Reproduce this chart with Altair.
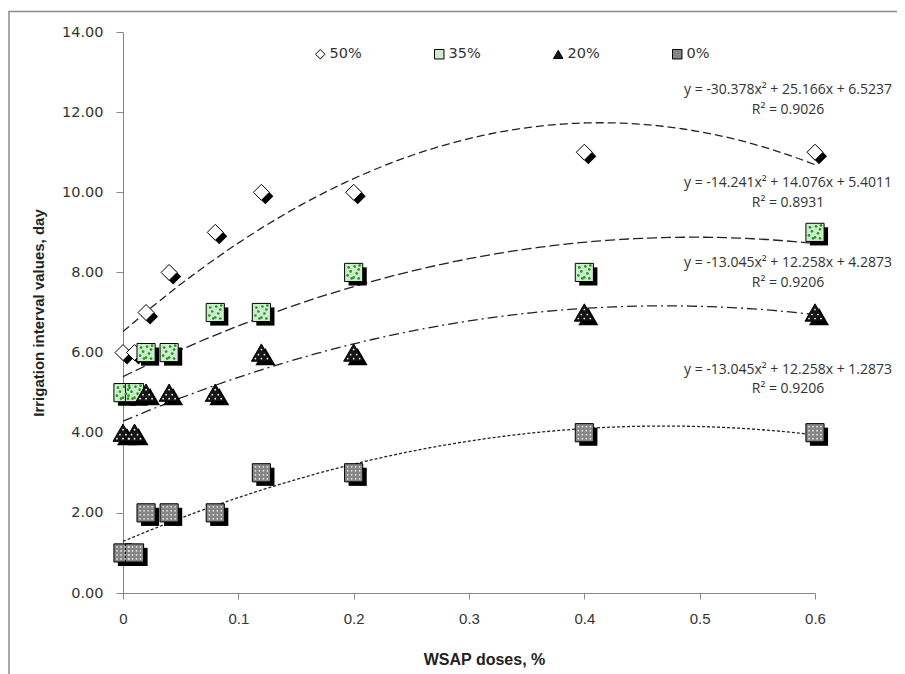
import altair as alt
import pandas as pd

# ---------------- data ----------------
series_names = ["50%", "35%", "20%", "0%"]
doses = [0, 0.01, 0.02, 0.04, 0.08, 0.12, 0.2, 0.4, 0.6]
vals_50 = [6, 6, 7, 8, 9, 10, 10, 11, 11]
vals_35 = [5, 5, 6, 6, 7, 7, 8, 8, 9]
vals_20 = [4, 4, 5, 5, 5, 6, 6, 7, 7]
vals_0 = [1, 1, 2, 2, 2, 3, 3, 4, 4]

eq_texts = [
    "y = -30.378x² + 25.166x + 6.5237",
    "y = -14.241x² + 14.076x + 5.4011",
    "y = -13.045x² + 12.258x + 4.2873",
    "y = -13.045x² + 12.258x + 1.2873",
]
r2_texts = ["R² = 0.9026", "R² = 0.8931", "R² = 0.9206", "R² = 0.9206"]

x_ticks = [0, 0.1, 0.2, 0.3, 0.4, 0.5, 0.6]
y_ticks = [0, 2, 4, 6, 8, 10, 12, 14]

# annotation placement (data units)
eq_x = 0.5766
eq_y = [12.55, 10.23, 8.24, 5.57]
r2_y = [12.05, 9.73, 7.74, 5.09]

# ---------------- tables ----------------
rows = []
for name, vals in [("50%", vals_50), ("35%", vals_35), ("20%", vals_20), ("0%", vals_0)]:
    for d, v in zip(doses, vals):
        rows.append({"dose": d, "value": v, "series": name})
pts = pd.DataFrame(rows)

ann = pd.DataFrame(
    [{"dose": eq_x, "value": y, "t": t} for y, t in zip(eq_y, eq_texts)]
    + [{"dose": eq_x, "value": y, "t": t} for y, t in zip(r2_y, r2_texts)]
)

# ---------------- scales / styles ----------------
xscale = alt.Scale(domain=[0, 0.6], nice=False, zero=False)
yscale = alt.Scale(domain=[0, 14], nice=False)

shapes = ["diamond", "square", "triangle-up", "square"]
fills = ["#ffffff", "#cdebcd", "#161616", "#858585"]
sizes = [256, 330, 400, 330]
dashes = [[8, 4], [10, 4], [10, 4, 2, 4], [3, 2]]
shape_scale = alt.Scale(domain=series_names, range=shapes)
fill_scale = alt.Scale(domain=series_names, range=fills)
stroke_scale = alt.Scale(domain=series_names, range=["#000000"] * 4)

# texture dots (pixel offsets inside each marker)
tex = {
    "35%": ([(-5, -5), (1, -6), (5, -3), (-3, -1), (3, 1), (-6, 3), (0, 5), (5, 6), (-2, 6), (6, -7)], "#1f9a1f", 7),
    "20%": ([(0, -3), (-3, 2), (3, 2), (-6, 6), (0, 6), (6, 6)], "#ffffff", 3),
    "0%": ([(dx, dy) for dx in (-6, -2, 2, 6) for dy in (-6, -2, 2, 6)], "#e8e8e8", 3),
}

axis_gray = "#868686"
label_col = "#333333"

xaxis = alt.Axis(
    values=x_ticks, format=".1~f", grid=False,
    domainColor=axis_gray, tickColor=axis_gray, tickSize=6,
    labelFont="Liberation Sans Narrow, Liberation Sans", labelFontSize=15, labelColor=label_col,
    labelPadding=12, labelFlush=False,
    titleFont="Liberation Sans Narrow, Liberation Sans", titleFontSize=16,
    titleFontWeight="bold", titleColor="#222222", titlePadding=25, titleX=361, titleAlign="center",
)
yaxis = alt.Axis(
    values=y_ticks, format=".2f", grid=False,
    domainColor=axis_gray, tickColor=axis_gray, tickSize=7,
    labelFont="DejaVu Sans", labelFontSize=14.5, labelColor=label_col, labelPadding=13,
    titleFont="Liberation Sans Narrow, Liberation Sans",
    titleFontSize=15, titleFontWeight="bold", titleColor="#222222", titlePadding=15,
)

X = alt.X("dose:Q", scale=xscale, axis=xaxis, title="WSAP doses, %")
Y = alt.Y("value:Q", scale=yscale, axis=yaxis, title="Irrigation interval values, day")

legend = alt.Legend(
    title=None, orient="none", legendX=190, legendY=15, direction="horizontal",
    columnPadding=70, symbolSize=90, symbolStrokeColor="black", symbolStrokeWidth=1,
    labelFont="DejaVu Sans", labelFontSize=14.5, labelColor=label_col, labelOffset=2,
)

layers = []

frame = alt.Chart(pd.DataFrame({"k": [0]})).mark_rect(
    fill="transparent", stroke="#8a8a8a", strokeWidth=1.5
).encode(x=alt.value(-114), x2=alt.value(1000), y=alt.value(-20.5), y2=alt.value(1000))
layers.append(frame)

# trend lines (2nd-order polynomial fits computed by Vega)
for i, s in enumerate(series_names):
    layers.append(
        alt.Chart(pts).transform_filter(alt.datum.series == s)
        .transform_regression("dose", "value", method="poly", order=2, extent=[0, 0.6])
        .mark_line(color="#222222", strokeWidth=1.3, strokeDash=dashes[i])
        .encode(x=X, y=Y)
    )

for i, s in enumerate(series_names):
    sub = alt.Chart(pts).transform_filter(alt.datum.series == s)
    layers.append(
        sub.mark_point(filled=True, color="black", opacity=1, shape=shapes[i], size=sizes[i],
                       xOffset=4, yOffset=4).encode(x=X, y=Y)
    )
    layers.append(
        sub.mark_point(filled=True, strokeWidth=1, opacity=1, size=sizes[i]).encode(
            x=X, y=Y,
            shape=alt.Shape("series:N", scale=shape_scale, legend=legend),
            fill=alt.Fill("series:N", scale=fill_scale, legend=legend),
            stroke=alt.Stroke("series:N", scale=stroke_scale, legend=legend),
        )
    )
    if s in tex:
        offs, col, sz = tex[s]
        for dx, dy in offs:
            layers.append(
                sub.mark_point(filled=True, color=col, opacity=1, shape="circle", size=sz,
                               xOffset=dx, yOffset=dy).encode(x=X, y=Y)
            )

texts = alt.Chart(ann).mark_text(
    font="Open Sans", fontSize=14, color="#333333", align="center", baseline="middle"
).encode(x=X, y=Y, text="t:N")
layers.append(texts)

chart = alt.layer(*layers).properties(
    width=692, height=561,
    padding={"left": 115, "top": 24, "right": 82, "bottom": 81},
    autosize=alt.AutoSizeParams(type="none"),
).configure_view(stroke=None)

chart.save("out.html", embed_options={"renderer": "svg", "actions": False})
